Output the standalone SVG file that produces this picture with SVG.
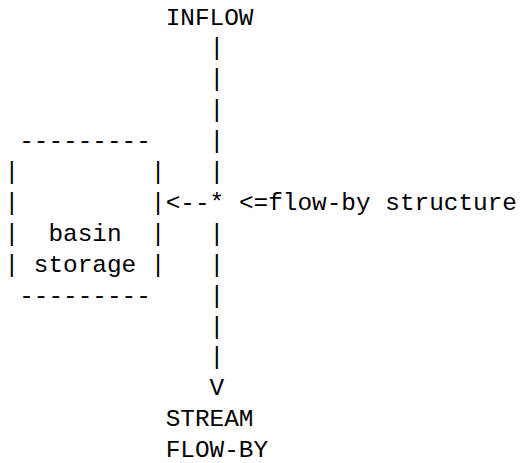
<svg xmlns="http://www.w3.org/2000/svg" width="521" height="463" viewBox="0 0 521 463">
<style>
text { font-family: "Liberation Mono", "DejaVu Sans Mono", monospace; font-size: 24.4px; fill: #000; white-space: pre; }
</style>
<rect width="521" height="463" fill="#fff"/>
<g id="inflow">
<text x="165.65" y="24.5">INFLOW</text>
</g>
<g id="basin-storage">
<text x="19.15" y="148.1">---------</text>
<text x="4.5" y="179" xml:space="preserve">|         |</text>
<text x="4.5" y="209.9" xml:space="preserve">|         |</text>
<text x="4.5" y="240.8" xml:space="preserve">|  basin  |</text>
<text x="4.5" y="271.7" xml:space="preserve">| storage |</text>
<text x="19.15" y="302.6">---------</text>
</g>
<g id="flow-by-structure">
<text x="238.9" y="209.9">&lt;=flow-by structure</text>
</g>
<g id="stream-flow-by">
<text x="165.65" y="426.2">STREAM</text>
<text x="165.65" y="457.1">FLOW-BY</text>
</g>
<g id="connectors">
<text x="209.6" y="55.4">|</text>
<text x="209.6" y="86.3">|</text>
<text x="209.6" y="117.2">|</text>
<text x="209.6" y="148.1">|</text>
<text x="209.6" y="179">|</text>
<text x="165.65" y="209.9">&lt;--*</text>
<text x="209.6" y="240.8">|</text>
<text x="209.6" y="271.7">|</text>
<text x="209.6" y="302.6">|</text>
<text x="209.6" y="333.5">|</text>
<text x="209.6" y="364.4">|</text>
<text x="209.6" y="395.3">V</text>
</g>
</svg>
